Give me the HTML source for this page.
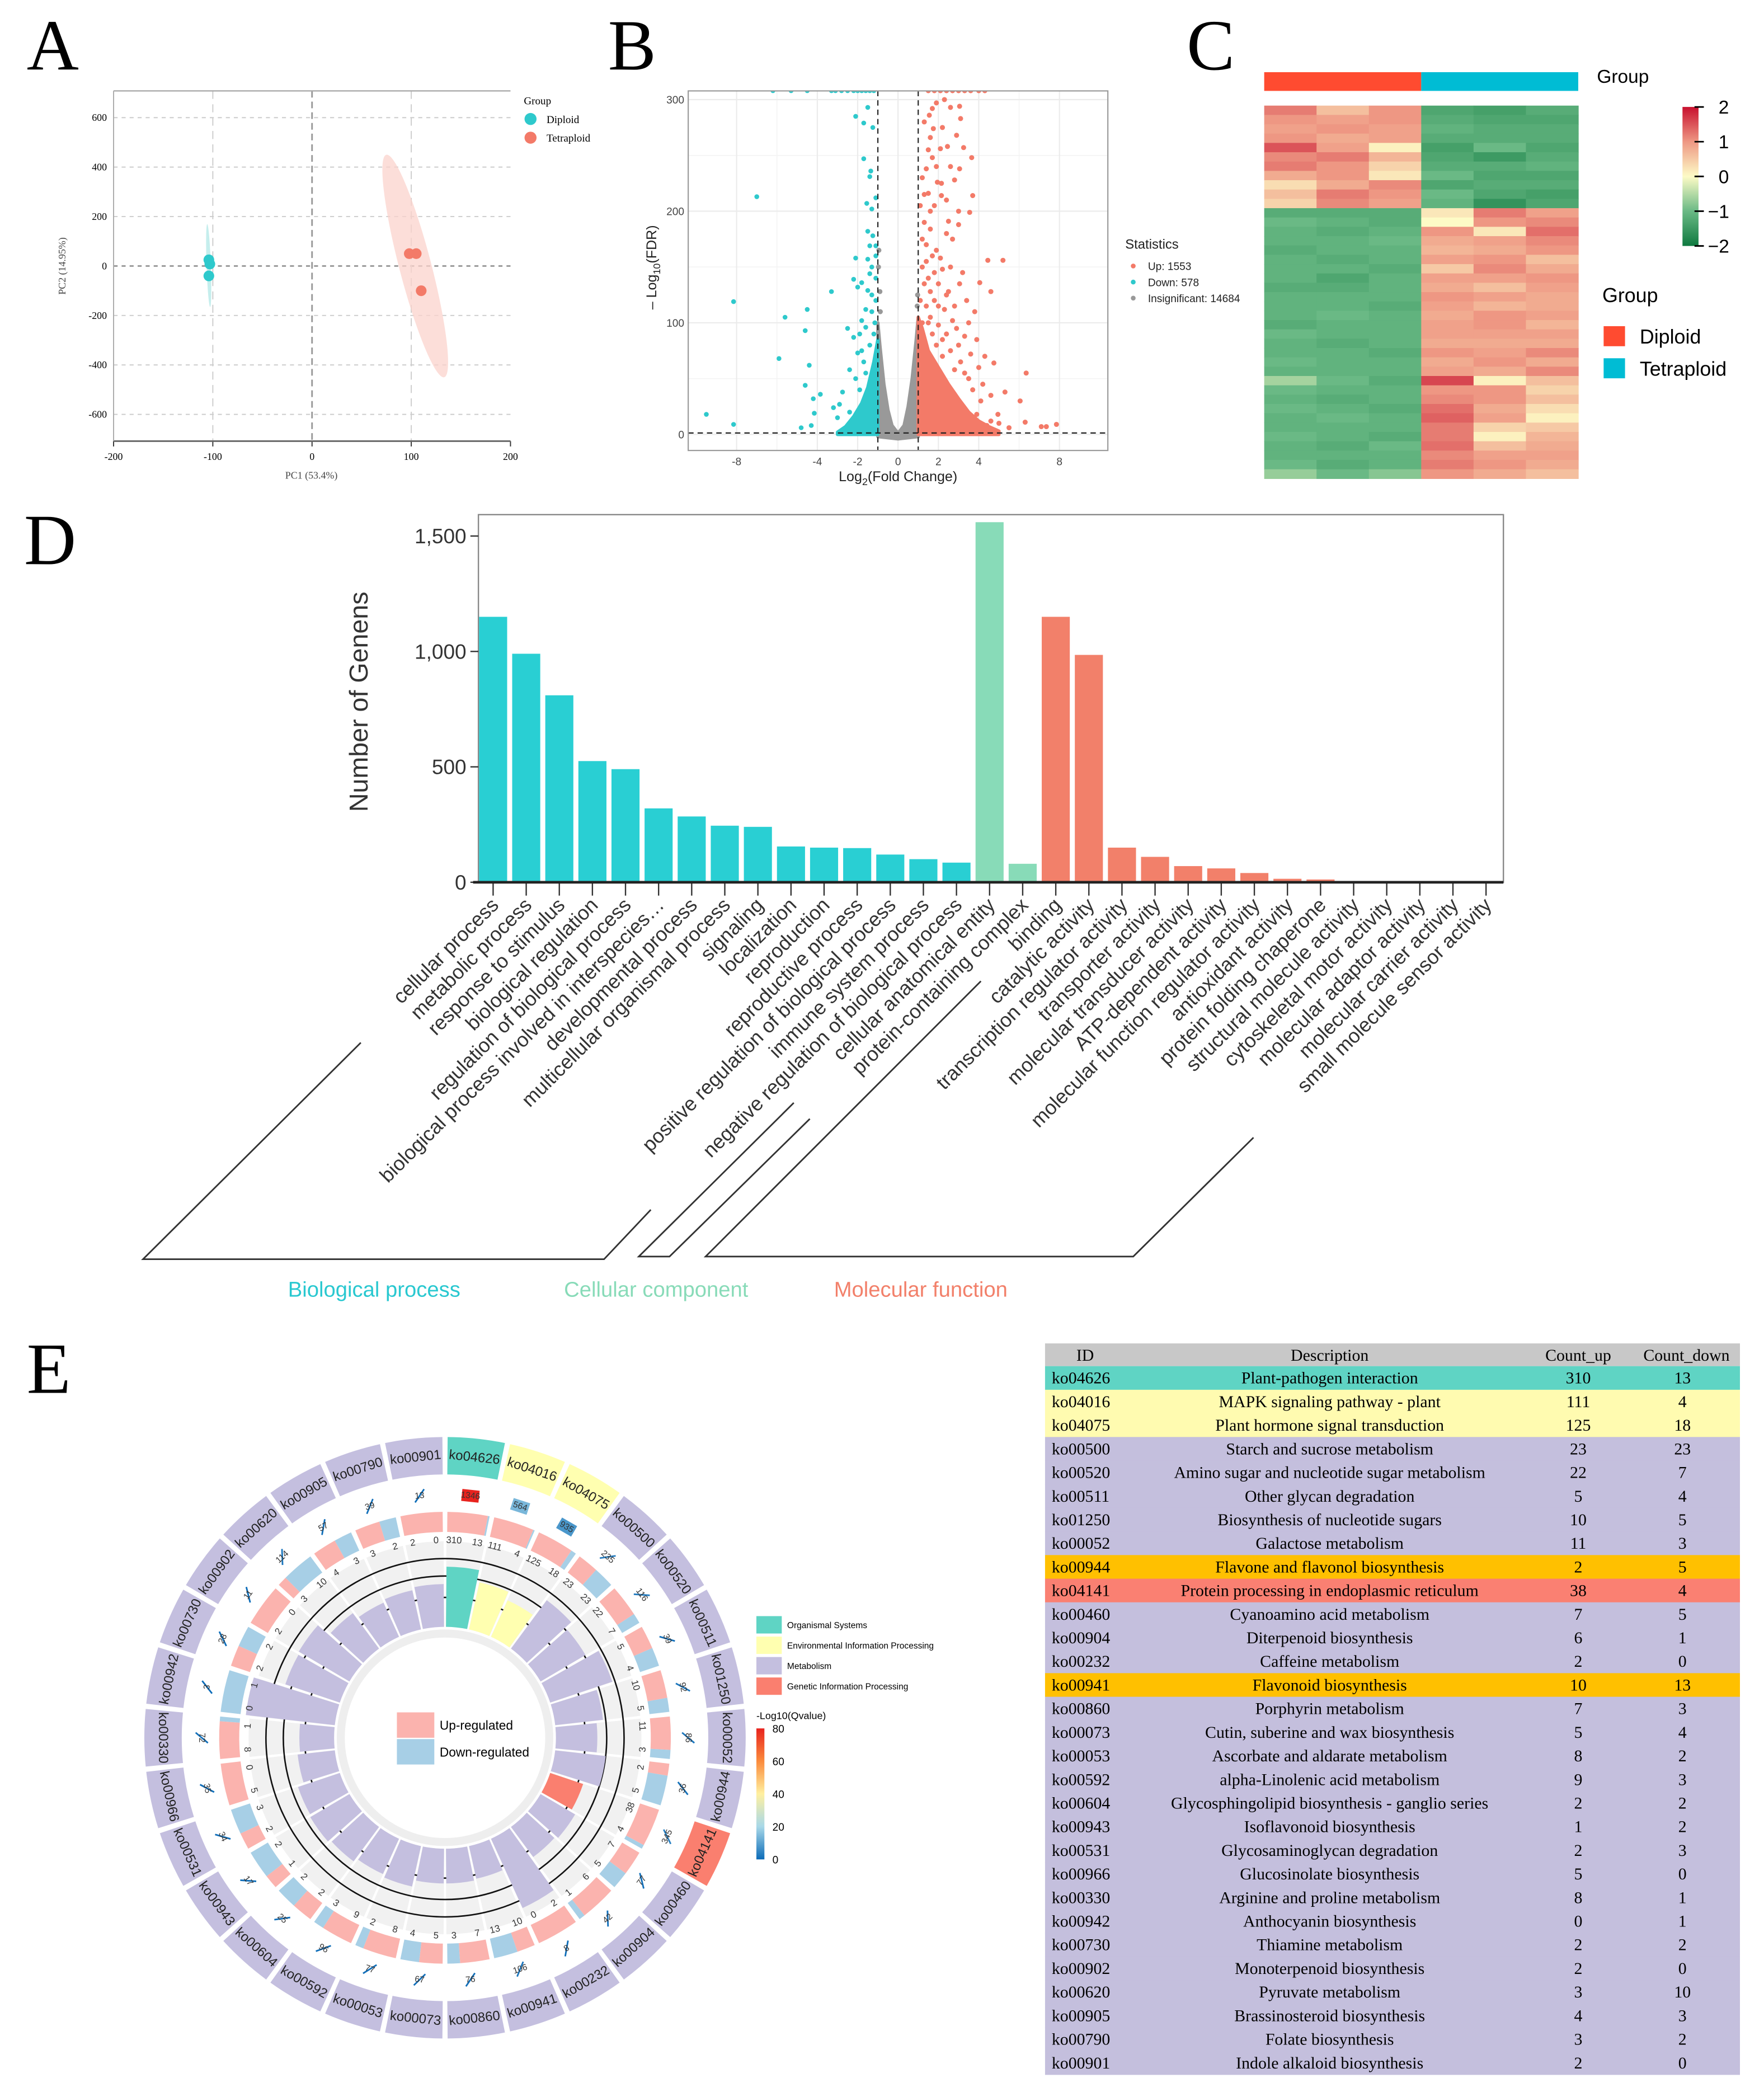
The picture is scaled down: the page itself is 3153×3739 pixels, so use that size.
<!DOCTYPE html>
<html><head><meta charset="utf-8"><style>body{margin:0;background:#fff}svg{display:block}</style></head>
<body>
<svg id="fig" width="3153" height="3739" viewBox="0 0 1320 1565" preserveAspectRatio="none" xmlns="http://www.w3.org/2000/svg" font-family="Liberation Sans, sans-serif">
<rect x="0" y="0" width="1320" height="1565" fill="#fff"/>
<text x="20" y="52" font-family="Liberation Serif, serif" font-size="54">A</text>
<text x="455" y="52" font-family="Liberation Serif, serif" font-size="54">B</text>
<text x="888" y="52" font-family="Liberation Serif, serif" font-size="54">C</text>
<text x="18" y="422" font-family="Liberation Serif, serif" font-size="54">D</text>
<text x="20" y="1042" font-family="Liberation Serif, serif" font-size="54">E</text>
<g id="gA"></g>
<g id="gB"></g>
<g id="gC"></g>
<g id="gD"></g>
<g id="gE"></g>
<g id="gT"></g>
</svg>
<script>
// ---------- DATA ----------
const pcaDipX=[-104,-103,-104], pcaDipY=[25,8,-40];
const pcaTetX=[98,105,110], pcaTetY=[50,50,-100];
const pcaTicksX=[-200,-100,0,100,200], pcaTicksY=[600,400,200,0,-200,-400,-600];

const grayPoly=[[-1,-2],[-1,100],[-0.9,80],[-0.7,45],[-0.5,22],[-0.3,8],[0,1],[0.3,8],[0.5,25],[0.7,50],[0.9,85],[1,105],[1,-2],[0,-4]];
const upPoly=[[1,0],[1,105],[1.2,95],[1.5,75],[2,60],[2.5,45],[3,32],[3.5,20],[4,12],[4.5,7],[5,3],[5,0]];
const downPoly=[[-1,0],[-1,85],[-1.2,65],[-1.5,42],[-1.8,28],[-2.2,16],[-2.6,7],[-3,2],[-3,0]];
const downPts=[[-9.5,18],[-8.15,119],[-8.15,9],[-7,213],[-5.6,105],[-4.5,112],[-4.6,93],[-4.4,62],[-5.9,68],[-4.6,44],[-4.15,19],[-3.3,128],[-3.85,36],[-4.2,32],[-4.8,6],[-4.3,8],[-3.2,24],[-2.1,285],[-1.5,293],[-1.7,279],[-1.25,275],[-1.7,247],[-1.35,236],[-1.4,231],[-1.1,212],[-1.55,207],[-1.3,202],[-1.5,182],[-1.25,178],[-1.4,169],[-1.1,169],[-2.1,158],[-1.5,157],[-1.1,160],[-2.2,139],[-1.8,136],[-1.4,144],[-2,132],[-1.5,129],[-2.5,95],[-2.2,87],[-1.8,102],[-2,73],[-2.4,58],[-2.75,38],[-2.9,27],[-3,15],[-2.5,6],[-1.1,120],[-1.3,110],[-1.15,100],[-1.7,65],[-1.6,55],[-1.9,40],[-2.4,20],[-1.2,90],[-1.4,80],[-1.1,140],[-1.3,125],[-1.6,112],[-1.9,90],[-1.3,150],[-1.6,96],[-2.1,50],[-1.8,75],[-6.2,308],[-5.3,308],[-4.5,308],[-3.3,308],[-3.1,308],[-2.8,308],[-2.5,308],[-2.2,308],[-2,308],[-1.8,308],[-1.6,308],[-1.4,308],[-1.2,308]];
const upPts=[[1.7,292],[2.6,293],[3.05,294],[3.1,283],[1.55,286],[1.75,274],[2.2,275],[1.6,266],[2.1,256],[2.45,258],[3.25,257],[3.65,248],[1.7,248],[1.9,240],[2.6,240],[3.05,238],[1.4,238],[1.95,226],[2.15,225],[3.7,214],[1.5,216],[2.15,214],[1.6,200],[3,200],[3.55,199],[2.5,191],[3,188],[1.6,184],[2.7,175],[4.45,156],[5.2,156],[4.05,136],[4.6,128],[3.05,135],[6.35,55],[4.75,64],[4.3,70],[5.3,38],[6.05,30],[6.3,11],[7.1,7],[7.35,7],[7.85,9],[5.5,6],[4.95,18],[4.6,12],[1.2,150],[1.7,160],[2.2,148],[1.4,170],[1.9,165],[1.3,190],[2.4,180],[1.5,140],[2,135],[2.5,128],[1.8,120],[2.3,112],[2.8,115],[3.5,100],[3.3,88],[3,80],[2.7,102],[2.4,90],[3.1,65],[3.7,40],[4.1,30],[3.9,18],[4.4,8],[5,10],[3.5,50],[2.8,58],[1.2,100],[1.6,105],[2,98],[1.5,3],[3,1.5],
[1.1,120],[1.3,135],[1.2,175],[1.4,155],[1.8,145],[2.1,158],[1.1,205],[1.3,215],[1.8,205],[2.4,210],[1.2,230],[2.8,228],[1.5,255],[2.9,268],[1.3,280],[2.3,300],[1.9,297],[2.6,150],[3.2,145],[3.4,120],[3.8,110],[2.9,95],[2.2,85],[1.7,90],[1.4,115],[1.6,128],[3.6,72],[4.0,60],[3.3,55],[2.6,75],[1.9,80],[2.2,70],[4.2,45],[4.6,35],[3.9,85],[2.4,125],[2.0,115],[1.5,100],[1.3,85],[1.1,70],
[1.5,308],[1.8,308],[2.1,308],[2.4,308],[2.7,308],[3,308],[3.3,308],[3.6,308],[4,308],[4.3,308]];
const grayPts=[[-0.95,165],[-0.97,150],[-0.9,128],[-0.88,110],[0.95,115],[0.97,125],[-0.8,0],[0.8,0],[-0.4,-1],[0.4,-1]];
const volTicksX=[-8,-4,-2,0,2,4,8], volTicksY=[0,100,200,300];

const heatRows=[
[1.2,0.6,1.0,-1.3,-1.4,-1.2],[1.0,0.9,1.0,-1.2,-1.3,-1.3],[0.9,1.0,0.9,-1.1,-1.2,-1.2],[1.0,0.8,0.9,-1.2,-1.2,-1.2],
[1.5,0.9,0.1,-1.4,-1.0,-1.3],[1.1,1.2,0.7,-1.3,-1.5,-1.2],[1.2,1.0,0.4,-1.2,-1.2,-1.1],[0.8,1.0,0.2,-1.0,-1.3,-1.3],
[0.3,0.8,1.1,-1.3,-1.2,-1.2],[0.6,1.2,1.0,-1.0,-1.3,-1.4],[0.4,1.1,0.9,-1.1,-1.6,-1.3],
[-1.2,-1.2,-1.2,0.2,1.2,0.9],[-1.0,-1.1,-1.2,0.0,1.0,1.1],[-1.1,-1.2,-1.1,1.0,0.2,1.3],[-1.1,-1.1,-1.0,0.8,0.9,1.1],
[-1.2,-1.1,-1.1,0.7,0.8,1.0],[-1.1,-1.2,-1.1,0.9,1.0,0.6],[-1.1,-1.1,-1.2,0.5,1.1,0.8],[-1.1,-1.3,-1.1,0.9,0.9,1.0],
[-1.2,-1.2,-1.1,0.8,0.6,0.9],[-1.1,-1.1,-1.1,1.0,0.9,0.8],[-1.1,-1.1,-1.2,0.9,0.7,0.8],[-1.1,-1.0,-1.1,0.8,1.0,0.9],
[-1.2,-1.1,-1.1,0.9,1.0,0.7],[-1.0,-1.1,-1.1,0.9,0.9,0.9],[-1.1,-1.2,-1.1,0.8,0.8,0.8],[-1.1,-1.1,-1.2,1.0,0.9,1.1],
[-1.0,-1.1,-1.1,0.8,1.0,0.8],[-1.1,-1.1,-1.1,0.9,0.8,1.1],[-0.6,-1.0,-1.2,1.6,0.1,0.6],[-1.0,-1.1,-1.1,1.0,1.0,0.4],
[-1.1,-1.2,-1.1,1.1,1.0,0.6],[-1.0,-1.1,-1.2,1.3,0.8,0.3],[-1.1,-1.0,-1.1,1.4,0.9,0.1],[-1.1,-1.1,-1.1,1.2,0.4,0.5],
[-1.0,-1.1,-1.2,1.2,0.1,0.7],[-1.1,-1.2,-1.0,1.3,0.6,0.8],[-1.1,-1.1,-1.1,1.1,0.9,0.9],[-1.0,-1.2,-1.1,1.2,1.0,0.8],
[-0.7,-1.0,-0.8,1.0,0.8,0.6]];
const heatTicks=[2,1,0,-1,-2];

const goTerms=["cellular process","metabolic process","response to stimulus","biological regulation","regulation of biological process","biological process involved in interspecies…","developmental process","multicellular organismal process","signaling","localization","reproduction","reproductive process","positive regulation of biological process","immune system process","negative regulation of biological process","cellular anatomical entity","protein-containing complex","binding","catalytic activity","transcription regulator activity","transporter activity","molecular transducer activity","ATP-dependent activity","molecular function regulator activity","antioxidant activity","protein folding chaperone","structural molecule activity","cytoskeletal motor activity","molecular adaptor activity","molecular carrier activity","small molecule sensor activity"];
const goCounts=[1150,990,810,525,490,320,285,245,240,155,150,148,120,100,85,1560,80,1150,985,150,110,70,60,40,15,12,5,3,3,2,1];
const goClass=["BP","BP","BP","BP","BP","BP","BP","BP","BP","BP","BP","BP","BP","BP","BP","CC","CC","MF","MF","MF","MF","MF","MF","MF","MF","MF","MF","MF","MF","MF","MF"];
const goTicks=[0,500,1000,1500];

const keggIds=["ko04626","ko04016","ko04075","ko00500","ko00520","ko00511","ko01250","ko00052","ko00944","ko04141","ko00460","ko00904","ko00232","ko00941","ko00860","ko00073","ko00053","ko00592","ko00604","ko00943","ko00531","ko00966","ko00330","ko00942","ko00730","ko00902","ko00620","ko00905","ko00790","ko00901"];
const keggDesc=["Plant-pathogen interaction","MAPK signaling pathway - plant","Plant hormone signal transduction","Starch and sucrose metabolism","Amino sugar and nucleotide sugar metabolism","Other glycan degradation","Biosynthesis of nucleotide sugars","Galactose metabolism","Flavone and flavonol biosynthesis","Protein processing in endoplasmic reticulum","Cyanoamino acid metabolism","Diterpenoid biosynthesis","Caffeine metabolism","Flavonoid biosynthesis","Porphyrin metabolism","Cutin, suberine and wax biosynthesis","Ascorbate and aldarate metabolism","alpha-Linolenic acid metabolism","Glycosphingolipid biosynthesis - ganglio series","Isoflavonoid biosynthesis","Glycosaminoglycan degradation","Glucosinolate biosynthesis","Arginine and proline metabolism","Anthocyanin biosynthesis","Thiamine metabolism","Monoterpenoid biosynthesis","Pyruvate metabolism","Brassinosteroid biosynthesis","Folate biosynthesis","Indole alkaloid biosynthesis"];
const keggUp=[310,111,125,23,22,5,10,11,2,38,7,6,2,10,7,5,8,9,2,1,2,5,8,0,2,2,3,4,3,2];
const keggDown=[13,4,18,23,7,4,5,3,5,4,5,1,0,13,3,4,2,3,2,2,3,0,1,1,2,0,10,3,2,0];
const keggTotal=[1346,564,935,235,116,39,92,86,36,345,77,42,8,106,76,67,77,96,25,17,34,35,72,3,28,11,114,57,39,13];
const keggQ=[80,14,8,3,3,1,2,2,1,4,1,1,0.5,2,1,1,1,1,0.5,0.5,0.5,0.5,1,0.2,0.5,0.3,2,1,1,0.5];
const keggRich=[45,36,30,45,39,49,36,31,38,26,30,28,57,25,26,26,31,29,32,34,33,28,26,67,43,44,33,28,30,32];
const keggClass=["O","E","E","M","M","M","M","M","M","G","M","M","M","M","M","M","M","M","M","M","M","M","M","M","M","M","M","M","M","M"];
const tableRowClass=["O","E","E","M","M","M","M","M","F","G","M","M","M","F","M","M","M","M","M","M","M","M","M","M","M","M","M","M","M","M"];

// ---------- HELPERS ----------
const NS='http://www.w3.org/2000/svg';
function mk(tag,attrs,parent){const e=document.createElementNS(NS,tag);for(const k in attrs)e.setAttribute(k,attrs[k]);parent.appendChild(e);return e;}
function tx(parent,x,y,s,attrs){const e=mk('text',Object.assign({x:x,y:y},attrs||{}),parent);e.textContent=s;return e;}
function hex(c){return [parseInt(c.slice(1,3),16),parseInt(c.slice(3,5),16),parseInt(c.slice(5,7),16)];}
function interp(stops,v){if(v<=stops[0][0])return stops[0][1];for(let i=1;i<stops.length;i++){if(v<=stops[i][0]){const t=(v-stops[i-1][0])/(stops[i][0]-stops[i-1][0]);const a=hex(stops[i-1][1]),b=hex(stops[i][1]);return 'rgb('+a.map((x,j)=>Math.round(x+(b[j]-x)*t)).join(',')+')';}}return stops[stops.length-1][1];}

// ---------- PANEL A ----------
(function(){
const g=document.getElementById('gA');
const ax=v=>233.5+v*0.7425, ay=v=>199-v*0.185;
pcaTicksY.forEach(t=>{const l=mk('line',{x1:85,x2:382,y1:ay(t),y2:ay(t),stroke:t===0?'#999':'#ccc','stroke-width':t===0?1.2:0.8,'stroke-dasharray':'3,3'},g);


const lab=tx(g,80,ay(t)+2.5,String(t),{'font-family':'Liberation Serif, serif','font-size':7.5,'text-anchor':'end'});

});
pcaTicksX.forEach(t=>{if(t>-200&&t<200){const l=mk('line',{x1:ax(t),x2:ax(t),y1:68,y2:330,stroke:t===0?'#999':'#ccc','stroke-width':t===0?1.2:0.8,'stroke-dasharray':t===0?'5,3':'6,4'},g);

}
const tk=mk('line',{x1:ax(t),x2:ax(t),y1:330,y2:334,stroke:'#333','stroke-width':0.8},g);


const lab=tx(g,ax(t),344,String(t),{'font-family':'Liberation Serif, serif','font-size':7.5,'text-anchor':'middle'});

});
const fr=mk('line',{x1:85,x2:382,y1:68,y2:68,stroke:'#aaa','stroke-width':1},g);


const fb=mk('line',{x1:85,x2:382,y1:330,y2:330,stroke:'#666','stroke-width':1.2},g);


const fl=mk('line',{x1:85,x2:85,y1:68,y2:330,stroke:'#aaa','stroke-width':0.8},g);


const mx=(a)=>a.reduce((s,v)=>s+v,0)/a.length;
const e1=mk('ellipse',{cx:ax(104),cy:ay(0),rx:12,ry:86,fill:'#fbd3cc','fill-opacity':0.75,transform:'rotate(-14.6 '+ax(104)+' '+ay(0)+')'},g);


const e2=mk('ellipse',{cx:ax(mx(pcaDipX)-0.5),cy:ay(2),rx:1.6,ry:31,fill:'#bfeceb','fill-opacity':0.9,transform:'rotate(-2 '+ax(-104)+' '+ay(2)+')'},g);


pcaDipX.forEach((x,i)=>{const c=mk('circle',{cx:ax(x),cy:ay(pcaDipY[i]),r:4,fill:'#2ec9cc'},g);

});
pcaTetX.forEach((x,i)=>{const c=mk('circle',{cx:ax(x),cy:ay(pcaTetY[i]),r:4,fill:'#f37a68'},g);

});
const xt=tx(g,233,358,'PC1 (53.4%)',{'font-family':'Liberation Serif, serif','font-size':7.5,'text-anchor':'middle',fill:'#444'});


const yt=tx(g,0,0,'PC2 (14.95%)',{'font-family':'Liberation Serif, serif','font-size':7.5,'text-anchor':'middle',fill:'#444',transform:'translate(49,199) rotate(-90)'});


const lg=tx(g,392,78,'Group',{'font-family':'Liberation Serif, serif','font-size':8});


[['Diploid','#2ec9cc',89],['Tetraploid','#f37a68',103]].forEach(d=>{const c=mk('circle',{cx:397,cy:d[2],r:4.5,fill:d[1]},g);


const t=tx(g,409,d[2]+3,d[0],{'font-family':'Liberation Serif, serif','font-size':8});

});
})();

// ---------- PANEL B ----------
(function(){
const g=document.getElementById('gB');
const bx=v=>672+v*15.1, by=v=>325-v*0.835;
const PL=515,PR=829;
const cp=mk('clipPath',{id:'clipB'},g);mk('rect',{x:PL,y:68,width:PR-PL,height:269},cp);
[-6,-2,2,6].forEach(t=>{const l=mk('line',{x1:bx(t),x2:bx(t),y1:68,y2:337,stroke:'#f3f3f3','stroke-width':0.6},g);

});
[50,150,250].forEach(t=>{const l=mk('line',{x1:PL,x2:PR,y1:by(t),y2:by(t),stroke:'#f3f3f3','stroke-width':0.6},g);

});
volTicksX.forEach(t=>{const l=mk('line',{x1:bx(t),x2:bx(t),y1:68,y2:337,stroke:'#ebebeb','stroke-width':0.9},g);


const lab=tx(g,bx(t),348,String(t),{'font-size':8,'text-anchor':'middle',fill:'#444'});

});
volTicksY.forEach(t=>{const l=mk('line',{x1:PL,x2:PR,y1:by(t),y2:by(t),stroke:'#ebebeb','stroke-width':0.9},g);


const lab=tx(g,512,by(t)+3,String(t),{'font-size':8,'text-anchor':'end',fill:'#444'});

});
const pts=mk('g',{'clip-path':'url(#clipB)'},g);
const poly=(arr,col,name)=>{const p=mk('polygon',{points:arr.map(d=>bx(d[0])+','+by(d[1])).join(' '),fill:col,stroke:col,'stroke-width':2.5,'stroke-linejoin':'round'},pts);

};
poly(grayPoly,'#999999','insignificant-density');
poly(upPoly,'#f37a68','up-density');
poly(downPoly,'#2ec9cc','down-density');
grayPts.forEach(d=>{const c=mk('circle',{cx:bx(d[0]),cy:by(d[1]),r:1.9,fill:'#999'},pts);

});
downPts.forEach(d=>{const c=mk('circle',{cx:bx(d[0]),cy:by(Math.min(d[1],308)),r:1.8,fill:'#2ec9cc'},pts);

});
upPts.forEach(d=>{const c=mk('circle',{cx:bx(d[0]),cy:by(Math.min(d[1],308)),r:1.9,fill:'#f37a68'},pts);

});
[-1,1].forEach(v=>{const l=mk('line',{x1:bx(v),x2:bx(v),y1:68,y2:337,stroke:'#222','stroke-width':0.9,'stroke-dasharray':'4,3'},g);

});
const h=mk('line',{x1:PL,x2:PR,y1:by(1.3),y2:by(1.3),stroke:'#222','stroke-width':0.9,'stroke-dasharray':'4,3'},g);


const bd=mk('rect',{x:PL,y:68,width:PR-PL,height:269,fill:'none',stroke:'#999','stroke-width':0.9},g);


const xt=mk('text',{x:672,y:360,'font-size':10.5,'text-anchor':'middle',fill:'#222'},g);
xt.innerHTML='Log<tspan font-size="7.5" dy="3">2</tspan><tspan dy="-3">(Fold Change)</tspan>';


const yt=mk('text',{'font-size':10.5,'text-anchor':'middle',fill:'#222',transform:'translate(491,200) rotate(-90)'},g);
yt.innerHTML='– Log<tspan font-size="7.5" dy="3">10</tspan><tspan dy="-3">(FDR)</tspan>';


const st=tx(g,842,186,'Statistics',{'font-size':10,fill:'#222'});


[['Up: 1553','#f37a68',199],['Down: 578','#2ec9cc',211],['Insignificant: 14684','#999',223]].forEach(d=>{const c=mk('circle',{cx:848,cy:d[2],r:1.8,fill:d[1]},g);


const t=tx(g,859,d[2]+3,d[0],{'font-size':8,fill:'#222'});

});
})();

// ---------- PANEL C ----------
(function(){
const g=document.getElementById('gC');
const stops=[[-2,'#0f7a40'],[-1,'#6ab985'],[0,'#fdfbc6'],[1,'#ee9783'],[2,'#c8102e']];
const x0=946,w=(1181-946)/6,y0=79,rh=(358-79)/heatRows.length;
const b1=mk('rect',{x:x0,y:54,width:w*3,height:14,fill:'#ff4b30'},g);


const b2=mk('rect',{x:x0+w*3,y:54,width:w*3,height:14,fill:'#00bcd4'},g);


heatRows.forEach((row,i)=>row.forEach((v,j)=>{const r=mk('rect',{x:x0+j*w,y:y0+i*rh,width:w+0.3,height:rh+0.3,fill:interp(stops,v)},g);

}));
const gr=tx(g,1195,62,'Group',{'font-size':14});


const defs=mk('defs',{},g);const lgd=mk('linearGradient',{id:'hgrad',x1:0,y1:0,x2:0,y2:1},defs);
stops.slice().reverse().forEach((s,i)=>mk('stop',{offset:(i/4),'stop-color':s[1]},lgd));
const cb=mk('rect',{x:1259,y:80,width:12,height:104,fill:'url(#hgrad)'},g);


heatTicks.forEach(t=>{const y=80+(2-t)/4*104;const l=mk('line',{x1:1268,x2:1275,y1:y,y2:y,stroke:'#000','stroke-width':1.2},g);


const lab=tx(g,t<0?1278:1286,y+5,t<0?'\u2212'+Math.abs(t):String(t),{'font-size':14});

});
const g2=tx(g,1199,226,'Group',{'font-size':15});


[['Diploid','#ff4b30',244],['Tetraploid','#00bcd4',268]].forEach(d=>{const r=mk('rect',{x:1200,y:d[2],width:16,height:15,fill:d[1]},g);


const t=tx(g,1227,d[2]+13,d[0],{'font-size':15});

});
})();

// ---------- PANEL D ----------
(function(){
const g=document.getElementById('gD');
const L=358,R=1125,T=385,B=660;
const yv=v=>B-v*(B-401)/1500;
const step=(1112-369)/(goTerms.length-1);
const xc=i=>369+i*step;
const col={BP:'#29cfd3',CC:'#88dbb8',MF:'#f2806a'};
const fr=mk('rect',{x:L,y:T,width:R-L,height:B-T,fill:'none',stroke:'#888','stroke-width':1},g);


goTicks.forEach(t=>{const l=mk('line',{x1:L-6,x2:L,y1:yv(t),y2:yv(t),stroke:'#333','stroke-width':1},g);


const lab=tx(g,L-9,yv(t)+5.5,t.toLocaleString('en-US'),{'font-size':15.5,'text-anchor':'end',fill:'#333'});

});
goCounts.forEach((v,i)=>{const r=mk('rect',{x:xc(i)-10.5,y:yv(v),width:21,height:B-yv(v),fill:col[goClass[i]]},g);


const tk=mk('line',{x1:xc(i),x2:xc(i),y1:B,y2:B+10,stroke:'#333','stroke-width':1},g);


const lab=tx(g,0,0,goTerms[i],{'font-size':15,'text-anchor':'end',fill:'#333',transform:'translate('+(xc(i)+5)+','+(B+18)+') rotate(-45)'});

});
const ax=mk('line',{x1:L-4,x2:R,y1:B,y2:B,stroke:'#222','stroke-width':2},g);


const yt=tx(g,0,0,'Number of Genens',{'font-size':19.5,'text-anchor':'middle',fill:'#333',transform:'translate(275,525) rotate(-90)'});


const br=[['270,780 107,942 452,942 487,905','bp-bracket'],['594,825 478,940 501,940 606,837','cc-bracket'],['734,734 528,940 848,940 938,851','mf-bracket']];
br.forEach(b=>{const p=mk('polyline',{points:b[0],fill:'none',stroke:'#333','stroke-width':1.2},g);

});
[['Biological process','#29c8d0',280],['Cellular component','#88dbb8',491],['Molecular function','#f2806a',689]].forEach(d=>{const t=tx(g,d[2],970,d[0],{'font-size':16,'text-anchor':'middle',fill:d[1]});

});
})();

// ---------- PANEL E (circos) ----------
(function(){
const g=document.getElementById('gE');
const cx=333,cy=1300,n=keggIds.length,sw=360/n;
const P=(r,a)=>[cx+r*Math.sin(a*Math.PI/180),cy-r*Math.cos(a*Math.PI/180)];
const sector=(r0,r1,a0,a1)=>{const p1=P(r1,a0),p2=P(r1,a1),p3=P(r0,a1),p4=P(r0,a0);const lg=(a1-a0)>180?1:0;
return 'M'+p1+' A'+r1+','+r1+' 0 '+lg+' 1 '+p2+' L'+p3+' A'+r0+','+r0+' 0 '+lg+' 0 '+p4+'Z';};
const rot=a=>(a>90&&a<=270)?a-180:a;
const ringCol={O:'#5fd4c4',E:'#ffffb0',M:'#c4bfdf',G:'#fa7f6f'};
const qStops=[[0,'#0b6bb8'],[20,'#a8d8e8'],[40,'#fff0a0'],[60,'#fb8b3c'],[80,'#e8231e']];
const bgIn=mk('circle',{cx:cx,cy:cy,r:78,fill:'none',stroke:'#eeeeee','stroke-width':6},g);


keggIds.forEach((id,i)=>{const a0=i*sw,a1=(i+1)*sw;
const s=mk('path',{d:sector(83,147,a0+0.4,a1-0.4),fill:'#f1f1f1'},g);

});
[105,121,134].forEach(r=>{const c=mk('circle',{cx:cx,cy:cy,r:r,fill:'none',stroke:'#111','stroke-width':1.1},g);

});
keggIds.forEach((id,i)=>{const a0=i*sw,a1=(i+1)*sw,am=(a0+a1)/2;
const b=mk('path',{d:sector(83,83+keggRich[i],a0+0.5,a1-0.5),fill:ringCol[keggClass[i]]},g);


const tot=keggUp[i]+keggDown[i];const am2=a0+0.6+(sw-1.2)*(tot?keggUp[i]/tot:0.5);
const u=mk('path',{d:sector(154,169,a0+0.6,am2),fill:'#fbb3ae'},g);


const d=mk('path',{d:sector(154,169,am2,a1-0.6),fill:'#a7cfe6'},g);


[[keggUp[i],a0+2.6],[keggDown[i],a1-2.6]].forEach(v=>{const p=P(148,v[1]);
const t=tx(g,p[0],p[1],String(v[0]),{'font-size':7,'text-anchor':'middle','dominant-baseline':'central',fill:'#333',transform:'rotate('+rot(v[1])+' '+p[0]+' '+p[1]+')'});

});
const pq=P(182,am);
if(keggQ[i]>5){const r=mk('rect',{x:pq[0]-6.5,y:pq[1]-4.5,width:13,height:9,fill:interp(qStops,keggQ[i]),transform:'rotate('+rot(am)+' '+pq[0]+' '+pq[1]+')'},g);

}
else{const r=mk('rect',{x:pq[0]-0.6,y:pq[1]-6,width:1.2,height:12,fill:interp(qStops,keggQ[i]),transform:'rotate('+(rot(am)+40)+' '+pq[0]+' '+pq[1]+')'},g);

}
const tt=tx(g,pq[0],pq[1],String(keggTotal[i]),{'font-size':6.5,'text-anchor':'middle','dominant-baseline':'central',fill:'#333',transform:'rotate('+rot(am)+' '+pq[0]+' '+pq[1]+')'});


const o=mk('path',{d:sector(197,225,a0+0.5,a1-0.5),fill:ringCol[keggClass[i]]},g);


const po=P(211,am);
const ot=tx(g,po[0],po[1],id,{'font-size':10,'text-anchor':'middle','dominant-baseline':'central',fill:'#222',transform:'rotate('+rot(am)+' '+po[0]+' '+po[1]+')'});

});
const r1=mk('rect',{x:297,y:1281,width:28,height:19,fill:'#fbb3ae'},g);


const r2=mk('rect',{x:297,y:1301,width:28,height:19,fill:'#a7cfe6'},g);


const t1=tx(g,329,1294,'Up-regulated',{'font-size':9.5});


const t2=tx(g,329,1314,'Down-regulated',{'font-size':9.5});


[['Organismal Systems','#5fd4c4'],['Environmental Information Processing','#ffffb0'],['Metabolism','#c4bfdf'],['Genetic Information Processing','#fa7f6f']].forEach((d,i)=>{const y=1209+i*15.3;
const r=mk('rect',{x:566,y:y,width:19,height:13,fill:d[1]},g);


const t=tx(g,589,y+9,d[0],{'font-size':6.5});

});
const qt=tx(g,566,1286,'-Log10(Qvalue)',{'font-size':7.5});


const defs=mk('defs',{},g);const lgd=mk('linearGradient',{id:'qgrad',x1:0,y1:0,x2:0,y2:1},defs);
qStops.slice().reverse().forEach((s,i)=>mk('stop',{offset:i/4,'stop-color':s[1]},lgd));
const qb=mk('rect',{x:566,y:1293,width:6,height:98,fill:'url(#qgrad)'},g);


[80,60,40,20,0].forEach((v,i)=>{const y=1293+i*24.5;
const t=tx(g,578,y+3,String(v),{'font-size':8});

});
})();

// ---------- TABLE ----------
(function(){
const g=document.getElementById('gT');
const L=782,R=1302,top=1005,hh=17,rh=(1552-1022)/keggIds.length;
const fill={O:'#5fd4c4',E:'#fffbb0',M:'#c4bfdd',F:'#ffc000',G:'#fa8072'};
const hr=mk('rect',{x:L,y:top,width:R-L,height:hh,fill:'#c8c8c8'},g);


const cols=[[812,'ID'],[995,'Description'],[1181,'Count_up'],[1262,'Count_down']];
cols.forEach(c=>{const t=tx(g,c[0],top+13,c[1],{'font-family':'Liberation Serif, serif','font-size':12.5,'text-anchor':'middle'});

});
keggIds.forEach((id,i)=>{const y=top+hh+i*rh;
const r=mk('rect',{x:L,y:y,width:R-L,height:rh+0.2,fill:fill[tableRowClass[i]]},g);


const a=tx(g,787,y+13,id,{'font-family':'Liberation Serif, serif','font-size':12.5});


const b=tx(g,995,y+13,keggDesc[i],{'font-family':'Liberation Serif, serif','font-size':12.5,'text-anchor':'middle'});


const c=tx(g,1181,y+13,String(keggUp[i]),{'font-family':'Liberation Serif, serif','font-size':12.5,'text-anchor':'middle'});


const d=tx(g,1259,y+13,String(keggDown[i]),{'font-family':'Liberation Serif, serif','font-size':12.5,'text-anchor':'middle'});

});
})();
</script>
</body></html>
